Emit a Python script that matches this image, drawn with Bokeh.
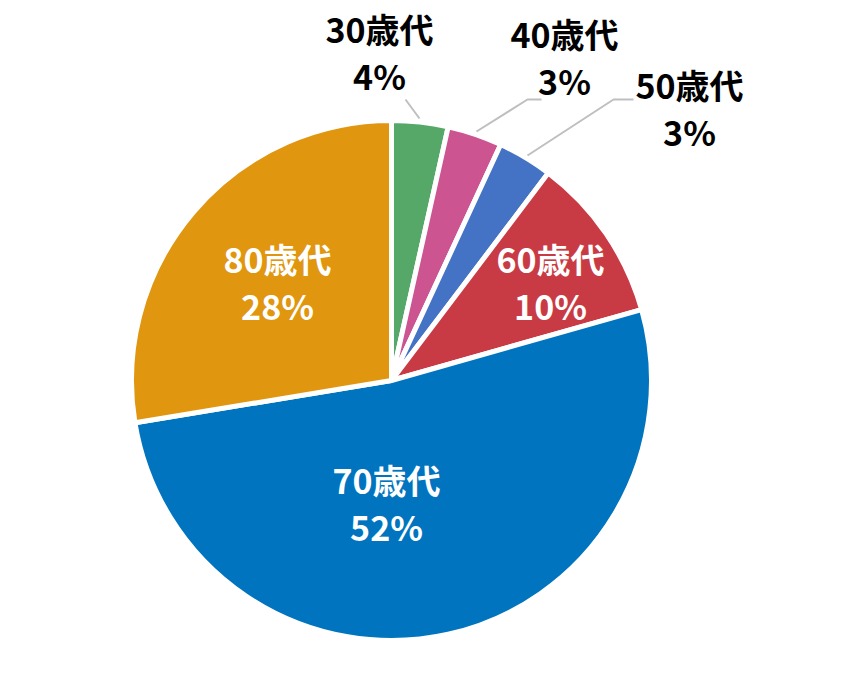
import numpy as np
from bokeh.plotting import figure
from bokeh.models import Range1d, ColumnDataSource
from bokeh.core.properties import value
from bokeh.embed import file_html
from bokeh.resources import INLINE

# ---- data ----
categories = ["30歳代", "40歳代", "50歳代", "60歳代", "70歳代", "80歳代"]
shares = [3.5, 3.4, 3.4, 10.3, 51.8, 27.6]
colors = ["#56A868", "#CC5491", "#4472C4", "#C93B44", "#0074BE", "#E0960F"]

# ---- layout (page pixel coords, y downward; plotted as y -> -y) ----
W, H = 834, 664
CX, CY, R = 391, 380, 260
label_xy = [(379, 28), (564, 33), (689, 84), (550, 258), (386, 479), (277, 258)]
label_gap = 47
label_color = ["black", "black", "black", "white", "white", "white"]
leaders = [
    [(405, 99), (419, 118)],
    [(476, 131), (527, 99), (541, 99)],
    [(527, 155), (613, 99), (633, 99)],
]
FONT = value("'Noto Sans CJK JP', sans-serif")
FSIZE = "34px"

p = figure(width=W, height=H, output_backend="svg", toolbar_location=None,
           x_range=Range1d(0, W), y_range=Range1d(-H, 0),
           min_border=0, outline_line_color=None)
p.axis.visible = False
p.grid.visible = False
p.background_fill_color = "white"
p.border_fill_color = "white"

frac = np.array(shares) / sum(shares)
cum = np.concatenate([[0], np.cumsum(frac)])
start = np.pi / 2 - cum[:-1] * 2 * np.pi
end = np.pi / 2 - cum[1:] * 2 * np.pi

src = ColumnDataSource(dict(start=start, end=end, color=colors, cat=categories))
p.wedge(x=CX, y=-CY, radius=R, start_angle="start", end_angle="end",
        direction="clock", fill_color="color", line_color="white",
        line_width=5, source=src)

for seg in leaders:
    p.line([q[0] for q in seg], [-q[1] for q in seg], line_color="#BFBFBF", line_width=2)

pct = [f"{round(v)}%" for v in shares]
lsrc = ColumnDataSource(dict(
    x=[q[0] for q in label_xy],
    y1=[-q[1] for q in label_xy],
    y2=[-(q[1] + label_gap) for q in label_xy],
    name=categories, pct=pct, col=label_color))
p.text(x="x", y="y1", text="name", source=lsrc, text_color="col",
       text_font=FONT, text_font_size=FSIZE, text_font_style="bold",
       text_align="center", text_baseline="middle")
p.text(x="x", y="y2", text="pct", source=lsrc, text_color="col",
       text_font=FONT, text_font_size=FSIZE, text_font_style="bold",
       text_align="center", text_baseline="middle")

open("out.html", "w").write(file_html(p, INLINE))
